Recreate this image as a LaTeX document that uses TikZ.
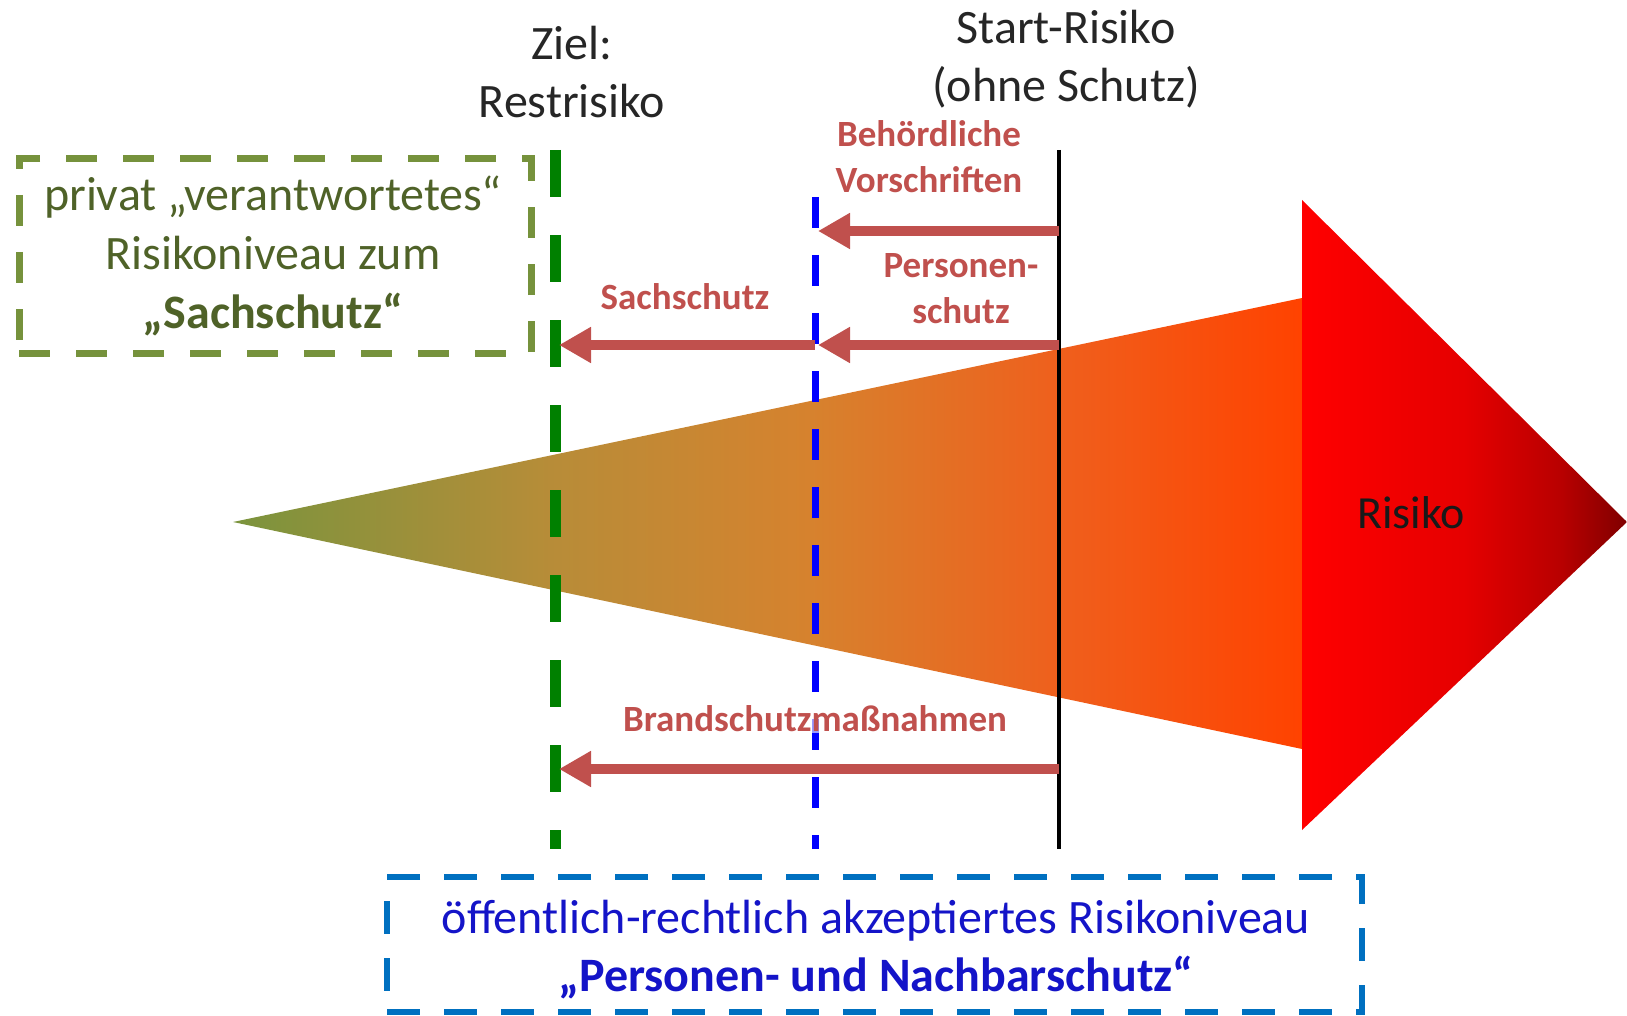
\documentclass[tikz,border=0pt]{standalone}
\usepackage{fontspec}
\setmainfont{Carlito}
\usetikzlibrary{arrows.meta}
\definecolor{olivebox}{RGB}{118,146,60}
\definecolor{olivetext}{RGB}{79,98,40}
\definecolor{lgreen}{RGB}{0,128,0}
\definecolor{lblue}{RGB}{0,0,255}
\definecolor{boxblue}{RGB}{0,112,192}
\definecolor{textblue}{RGB}{20,20,200}
\definecolor{arrred}{RGB}{192,80,77}
\pgfdeclarehorizontalshading{wedgeshade}{100bp}{rgb(0bp)=(0.48,0.58,0.24); rgb(25bp)=(0.48,0.58,0.24); rgb(40bp)=(0.72,0.55,0.22); rgb(52bp)=(0.84,0.51,0.18); rgb(64bp)=(0.94,0.37,0.11); rgb(75bp)=(1,0.26,0); rgb(100bp)=(1,0.26,0)}
\pgfdeclarehorizontalshading{redshade}{100bp}{rgb(0bp)=(1,0,0); rgb(25bp)=(1,0,0); rgb(50bp)=(0.9,0,0); rgb(65bp)=(0.72,0,0); rgb(75bp)=(0.5,0,0); rgb(100bp)=(0.5,0,0)}
\begin{document}
\begin{tikzpicture}[x=1pt,y=-1pt,
  lbl/.style={font=\fontsize{48}{58}\selectfont, text=black!85, anchor=base, inner sep=0pt},
  redlbl/.style={font=\fontsize{37}{46}\selectfont\bfseries, text=arrred, anchor=base, inner sep=0pt},
  greentxt/.style={font=\fontsize{48}{58}\selectfont, text=olivetext, anchor=base, inner sep=0pt},
  bluetxt/.style={font=\fontsize{48}{58}\selectfont, text=textblue, anchor=base, inner sep=0pt},
  arr/.style={draw=arrred, line width=10pt, -{Triangle[length=32pt,width=34pt]}},
  gline/.style={draw=lgreen, line width=11pt, dash pattern=on 47pt off 38pt},
  bline/.style={draw=lblue, line width=7pt, dash pattern=on 31pt off 27pt},
  kline/.style={draw=black, line width=4pt},
  gboxstyle/.style={draw=olivebox, line width=7pt, dash pattern=on 31pt off 26pt, inner sep=0pt},
  bboxstyle/.style={draw=boxblue, line width=6pt, dash pattern=on 33pt off 24pt, inner sep=0pt}]
\useasboundingbox (0,0) rectangle (1627,1016);
% wedge and arrow
\shade[shading=wedgeshade] (233,522) -- (1302,298) -- (1302,749) -- cycle;
\shade[shading=redshade] (1302,200) -- (1627,522) -- (1302,830) -- cycle;
\node[lbl, font=\fontsize{46}{56}\selectfont, text=black!90] (risk) at (1411,528) {Risiko};
% vertical lines
\coordinate (gT) at (555,150); \coordinate (gB) at (555,849);
\coordinate (bT) at (815,197); \coordinate (bB) at (815,849);
\coordinate (kT) at (1059,150); \coordinate (kB) at (1059,849);
\draw[gline] (gT) -- (gB);
\draw[bline] (bT) -- (bB);
\draw[kline] (kT) -- (kB);
% arrows
\coordinate (a1s) at (1059,231); \coordinate (a1e) at (818,231);
\coordinate (a2s) at (1059,345); \coordinate (a2e) at (818,345);
\coordinate (a3s) at (815,345);  \coordinate (a3e) at (559,345);
\coordinate (a4s) at (1059,769); \coordinate (a4e) at (559,769);
\draw[arr] (a1s) -- (a1e);
\draw[arr] (a2s) -- (a2e);
\draw[arr] (a3s) -- (a3e);
\draw[arr] (a4s) -- (a4e);
% labels
\node[lbl] (ziel) at (572,60) {Ziel:};
\node[lbl] (rest) at (572,118) {Restrisiko};
\node[lbl] (start) at (1066,44) {Start-Risiko};
\node[lbl] (ohne) at (1066,102) {(ohne Schutz)};
\node[redlbl] (beh) at (929,147) {Behördliche};
\node[redlbl] (vor) at (929,193) {Vorschriften};
\node[redlbl] (pers) at (961,277) {Personen-};
\node[redlbl] (pschutz) at (961,323) {schutz};
\node[redlbl] (sach) at (685,309) {Sachschutz};
\node[redlbl, fill=white, fill opacity=0.6, text opacity=1, inner sep=2pt] (brand) at (815,731) {Brandschutzmaßnahmen};
% boxes
\node[gboxstyle, minimum width=512pt, minimum height=194pt] (gbox) at (275,256) {};
\node[greentxt] (g1) at (273,211) {privat „verantwortetes“};
\node[greentxt] (g2) at (273,270) {Risikoniveau zum};
\node[greentxt, font=\fontsize{48}{58}\selectfont\bfseries] (g3) at (273,328) {„Sachschutz“};
\node[bboxstyle, minimum width=975pt, minimum height=135pt] (bbox) at (874.5,944.5) {};
\node[bluetxt] (b1) at (876,933) {öffentlich-rechtlich akzeptiertes Risikoniveau};
\node[bluetxt, font=\fontsize{48}{58}\selectfont\bfseries] (b2) at (876,991) {„Personen- und Nachbarschutz“};
\end{tikzpicture}
\end{document}
